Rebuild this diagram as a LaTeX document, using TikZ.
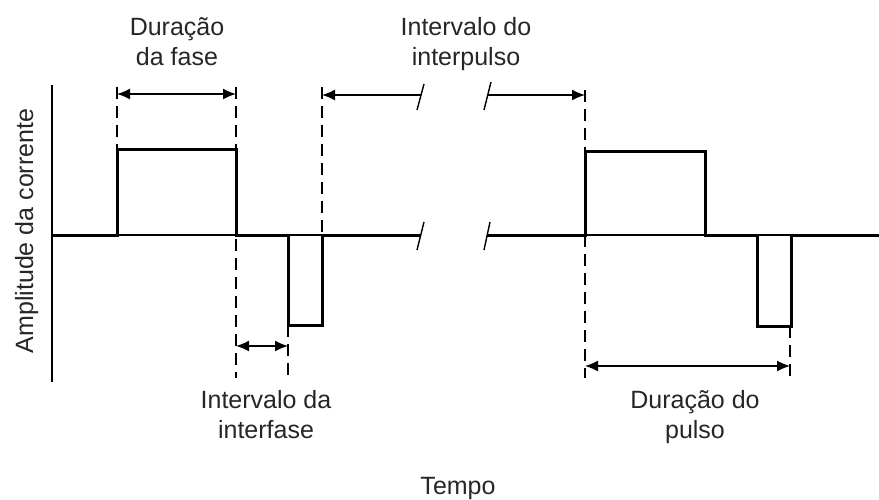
\documentclass[tikz,border=0pt]{standalone}
\usepackage{fontspec}
\setmainfont{Liberation Sans}
\usetikzlibrary{arrows.meta}
\begin{document}
\begin{tikzpicture}[x=1pt,y=-1pt,
  wave/.style={line width=3pt, line join=miter, line cap=butt},
  axisline/.style={line width=1.4pt},
  guide/.style={line width=1.6pt, dash pattern=on 12pt off 7pt},
  tipL/.tip={Latex[length=13pt,width=11pt]},
  dimboth/.style={line width=1.4pt, tipL-tipL},
  dimleft/.style={line width=1.4pt, tipL-},
  dimright/.style={line width=1.4pt, -tipL},
  brk/.style={line width=1.4pt},
  lbl/.style={font=\fontsize{25}{30}\selectfont, text=black!85, align=center, inner sep=0pt, anchor=base}]
\useasboundingbox (0,0) rectangle (879,499);

% key points of the two pulse trains
\coordinate (o)    at (52,235);
\coordinate (ytop) at (52,85);
\coordinate (ybot) at (52,382);
% first biphasic pulse
\coordinate (a1) at (117,235);
\coordinate (a2) at (236,235);
\coordinate (a3) at (288,235);
\coordinate (a4) at (322,235);
\coordinate (aend) at (420,235);
% second biphasic pulse
\coordinate (bstart) at (487,235);
\coordinate (b1) at (585,235);
\coordinate (b2) at (705,235);
\coordinate (b3) at (757,235);
\coordinate (b4) at (791,235);
\coordinate (bend) at (879,235);

% vertical axis
\draw[axisline] (ytop) -- (ybot);

% thin zero line
\draw[axisline] (o) -- (aend);
\draw[axisline] (bstart) -- (bend);

% waveforms
\draw[wave] (o) -- (a1) -- (117,149) -- (236,149) -- (a2) -- (a3)
  -- (288,325) -- (322,325) -- (a4) -- (aend);
\draw[wave] (bstart) -- (b1) -- (585,151) -- (705,151) -- (b2) -- (b3)
  -- (757,326) -- (791,326) -- (b4) -- (bend);

% break marks on the zero line
\draw[brk] (424,222) -- (417,250);
\draw[brk] (490,222) -- (484,250);

% dashed guides
\coordinate (g1t) at (117,87);
\coordinate (g2t) at (236,87);
\coordinate (g2b) at (236,378);
\coordinate (g3t) at (288,325);
\coordinate (g3b) at (288,378);
\coordinate (g4t) at (322,87);
\coordinate (g5t) at (585,90);
\coordinate (g5b) at (585,378);
\coordinate (g6t) at (790,326);
\coordinate (g6b) at (790,378);
\draw[guide] (g1t) -- (117,149);
\draw[guide] (g2t) -- (g2b);
\draw[guide] (g3t) -- (g3b);
\draw[guide] (g4t) -- (a4);
\draw[guide] (g5t) -- (585,151);
\draw[guide] (b1) -- (g5b);
\draw[guide] (g6t) -- (g6b);

% dimension arrows
\coordinate (d1l) at (117,94);
\coordinate (d1r) at (236,94);
\draw[dimboth] (d1l) -- (d1r);

\coordinate (d2l) at (322,95);
\coordinate (d2m) at (421,95);
\coordinate (d2n) at (488,95);
\coordinate (d2r) at (585,95);
\draw[dimleft] (d2l) -- (d2m);
\draw[dimright] (d2n) -- (d2r);
\draw[brk] (424,84) -- (417,110);
\draw[brk] (491,82) -- (484,110);

\coordinate (d3l) at (236,346);
\coordinate (d3r) at (288,346);
\draw[dimboth] (d3l) -- (d3r);

\coordinate (d4l) at (585,366);
\coordinate (d4r) at (790,366);
\draw[dimboth] (d4l) -- (d4r);

% labels (base anchor sits on the last line)
\node[lbl] (fase)       at (177,65)  {Duração\\da fase};
\node[lbl] (interpulso) at (466,65)  {Intervalo do\\interpulso};
\node[lbl] (interfase)  at (266,438) {Intervalo da\\interfase};
\node[lbl] (pulso)      at (695,438) {Duração do\\pulso};
\node[lbl] (tempo)      at (458,494) {Tempo};
\node[lbl, rotate=90] (amp) at (33,231) {Amplitude da corrente};
\end{tikzpicture}
\end{document}
